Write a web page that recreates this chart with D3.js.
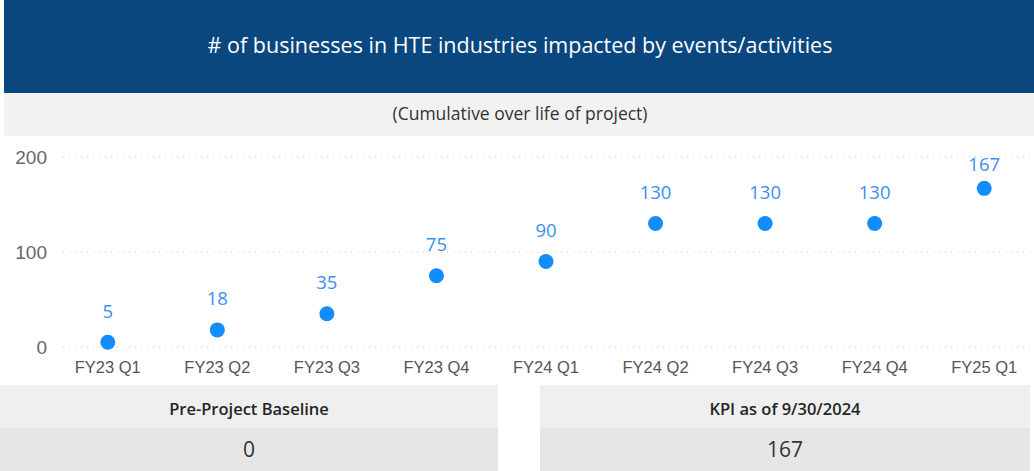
<!DOCTYPE html>
<html>
<head>
<meta charset="utf-8">
<script src="https://cdn.jsdelivr.net/npm/d3@7"></script>
<style>
  html, body { margin: 0; padding: 0; background: #fff; }
  svg { display: block; font-family: "Segoe UI", "Open Sans", "DejaVu Sans", sans-serif; }
</style>
</head>
<body>
<svg id="chart" width="1034" height="471"></svg>
<script>
// Data
const quarters = ['FY23 Q1', 'FY23 Q2', 'FY23 Q3', 'FY23 Q4', 'FY24 Q1', 'FY24 Q2', 'FY24 Q3', 'FY24 Q4', 'FY25 Q1']
const businesses = [5, 18, 35, 75, 90, 130, 130, 130, 167]
const yTicks = [0, 100, 200]
const cardTitles = ['Pre-Project Baseline', 'KPI as of 9/30/2024']
const cardValues = [0, 167]

const width = 1034
const height = 471
const svg = d3.select('#chart')

// Title band
svg.append('rect')
  .attr('x', 4).attr('y', 0).attr('width', width - 4).attr('height', 93)
  .attr('fill', '#0a477f')
svg.append('text')
  .attr('x', 520).attr('y', 44)
  .attr('text-anchor', 'middle').attr('dominant-baseline', 'central')
  .attr('fill', '#fff').attr('font-size', 21.5)
  .text('# of businesses in HTE industries impacted by events/activities')

// Subtitle band
svg.append('rect')
  .attr('x', 4).attr('y', 93).attr('width', width - 4).attr('height', 43)
  .attr('fill', '#f2f2f2')
svg.append('text')
  .attr('x', 520).attr('y', 113)
  .attr('text-anchor', 'middle').attr('dominant-baseline', 'central')
  .attr('fill', '#333').attr('font-size', 17.5)
  .text('(Cumulative over life of project)')

// Scatter plot
const x = d3.scaleBand().domain(quarters).range([53, 1039])
const y = d3.scaleLinear().domain([0, 200]).range([347, 157])

const grid = svg.append('g')
grid.selectAll('line')
  .data(yTicks)
  .join('line')
  .attr('x1', 63).attr('x2', width)
  .attr('y1', d => y(d)).attr('y2', d => y(d))
  .attr('stroke', '#c8c8c8')
  .attr('stroke-width', 1)
  .attr('stroke-dasharray', '1 5')

const yAxis = svg.append('g')
  .attr('transform', 'translate(47,0)')
  .call(d3.axisLeft(y).tickValues(yTicks).tickSize(0).tickPadding(0))
yAxis.select('.domain').remove()
yAxis.selectAll('text')
  .attr('fill', '#666').attr('font-size', 19)
  .attr('font-family', null)

const xAxis = svg.append('g')
  .attr('transform', 'translate(0,361)')
  .call(d3.axisBottom(x).tickSize(0).tickPadding(0))
xAxis.select('.domain').remove()
xAxis.selectAll('text')
  .attr('fill', '#555').attr('font-size', 16.5)
  .attr('font-family', null)

const pts = svg.append('g')
pts.selectAll('circle')
  .data(businesses)
  .join('circle')
  .attr('cx', (d, i) => x(quarters[i]) + x.bandwidth() / 2)
  .attr('cy', d => y(d))
  .attr('r', 7.5)
  .attr('fill', '#118dff')
// labels sit above the points, kept inside the plot top
pts.selectAll('text')
  .data(businesses)
  .join('text')
  .attr('x', (d, i) => x(quarters[i]) + x.bandwidth() / 2)
  .attr('y', d => Math.max(y(d) - 32, 163))
  .attr('text-anchor', 'middle').attr('dominant-baseline', 'central')
  .attr('fill', '#3b8ff0').attr('font-size', 18.5)
  .text(d => d)

// KPI cards
const cards = [{ x: 0, w: 498 }, { x: 540, w: 490 }]
cards.forEach((c, i) => {
  svg.append('rect').attr('x', c.x).attr('y', 385).attr('width', c.w).attr('height', 43).attr('fill', '#efefef')
  svg.append('rect').attr('x', c.x).attr('y', 428).attr('width', c.w).attr('height', 43).attr('fill', '#e6e6e6')
  svg.append('text')
    .attr('x', c.x + c.w / 2).attr('y', 408)
    .attr('text-anchor', 'middle').attr('dominant-baseline', 'central')
    .attr('fill', '#252525').attr('font-size', 16.5).attr('font-weight', 600)
    .text(cardTitles[i])
  svg.append('text')
    .attr('x', c.x + c.w / 2).attr('y', 449)
    .attr('text-anchor', 'middle').attr('dominant-baseline', 'central')
    .attr('fill', '#333').attr('font-size', 21)
    .text(cardValues[i])
})
</script>
</body>
</html>
